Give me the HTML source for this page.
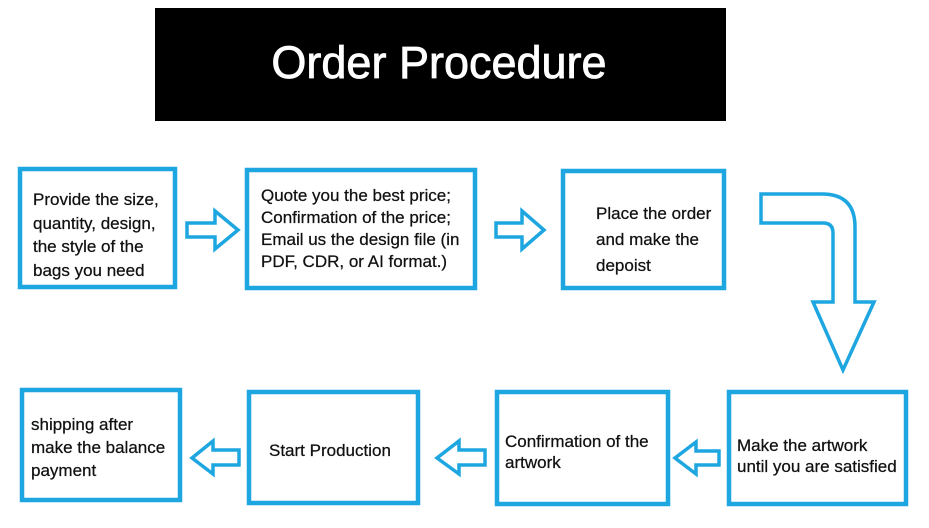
<!DOCTYPE html>
<html><head><meta charset="utf-8"><style>
body{margin:0;background:#fff;width:929px;height:528px;overflow:hidden;position:relative;font-family:"Liberation Sans",sans-serif}
.t{position:absolute;color:#111;font-size:17px;line-height:23px;-webkit-text-stroke:0.25px #111}
</style></head><body>
<svg width="929" height="528" style="position:absolute;left:0;top:0">
<rect x="155" y="8" width="571" height="113" fill="#000"/>
<text x="439" y="78" fill="#fff" font-size="45" stroke="#fff" stroke-width="0.8" text-anchor="middle" font-family="Liberation Sans, sans-serif">Order Procedure</text>
<g fill="none" stroke="#1ea6e0" stroke-width="4.5">
<rect x="20" y="169" width="155" height="118"/>
<rect x="247" y="170" width="228" height="118"/>
<rect x="563" y="171" width="161" height="117"/>
<rect x="22" y="390" width="158" height="110"/>
<rect x="249" y="392" width="169" height="111"/>
<rect x="497" y="392" width="171" height="112"/>
<rect x="729" y="392" width="177" height="112"/>
</g>
<g fill="none" stroke="#1ea6e0" stroke-width="3.5" stroke-linejoin="miter">
<path d="M187 223 H215 V211 L238 230 L215 249 V237 H187 Z"/>
<path d="M496 223 H522 V211 L544 230 L522 249 V237 H496 Z"/>
<path d="M761 194 H822 Q855 194 855 227 V302 H874 L843 370 L813 302 H833 V233 Q833 223 823 223 H761 Z"/>
<path d="M239 450 H213 V441 L192 458 L213 474 V465 H239 Z"/>
<path d="M485 450 H459 V441 L437 458 L459 474 V465 H485 Z"/>
<path d="M719 451 H696 V442 L675 458 L696 474 V465 H719 Z"/>
</g>
</svg>
<div class="t" style="left:33px;top:188px;line-height:23.5px">Provide the size,<br>quantity, design,<br>the style of the<br>bags you need</div>
<div class="t" style="left:261px;top:185px;line-height:22px">Quote you the best price;<br>Confirmation of the price;<br>Email us the design file (in<br>PDF, CDR, or AI format.)</div>
<div class="t" style="left:596px;top:201px;line-height:26px">Place the order<br>and make the<br>depoist</div>
<div class="t" style="left:31px;top:413px;line-height:23px">shipping after<br>make the balance<br>payment</div>
<div class="t" style="left:269px;top:439px">Start Production</div>
<div class="t" style="left:505px;top:431px;line-height:21px">Confirmation of the<br>artwork</div>
<div class="t" style="left:737px;top:435px;line-height:21px">Make the artwork<br>until you are satisfied</div>
</body></html>
